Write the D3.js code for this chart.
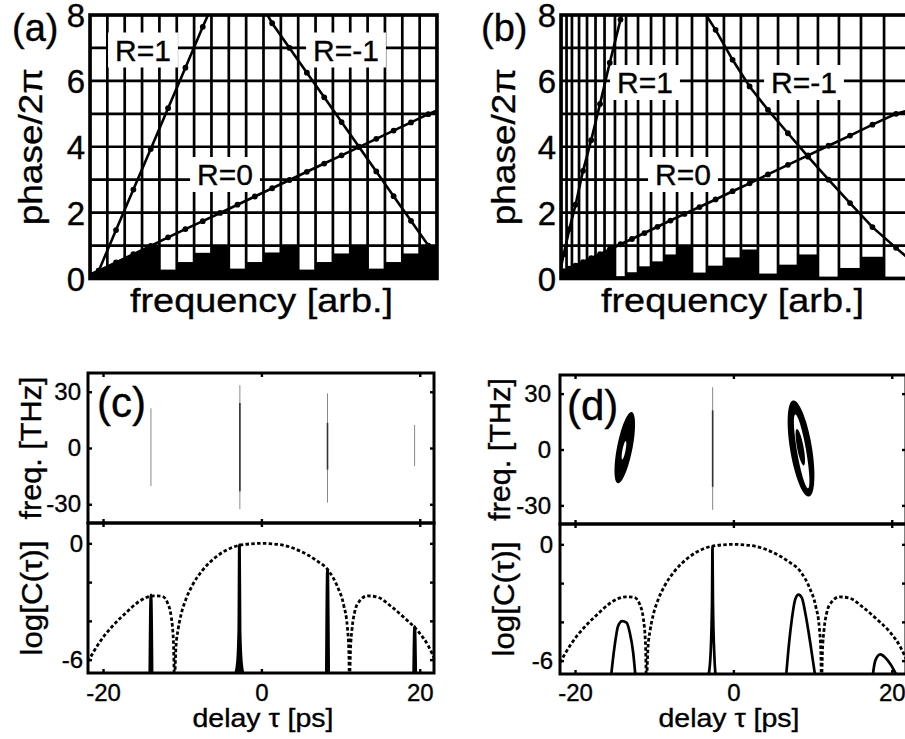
<!DOCTYPE html>
<html>
<head>
<meta charset="utf-8">
<script src="https://cdn.jsdelivr.net/npm/d3@7"></script>
<style>
  html, body { margin: 0; padding: 0; background: #fff; }
  svg { display: block; }
  text { font-family: "Liberation Sans", Arial, Helvetica, sans-serif; fill: #000; stroke: #000; stroke-width: 0.35px; }
</style>
</head>
<body>
<svg id="fig" width="905" height="739"></svg>
<script>
// ---------------- phase panels (a), (b) ----------------
const phaseTicks = [0, 2, 4, 6, 8];
const phaseLevels = [0, 1, 2, 3, 4, 5, 6, 7, 8];

// (a): uniform frequency bins (arb. units 0..20)
const gridA = [0, 1, 2, 3, 4, 5, 6, 7, 8, 9, 10, 11, 12, 13, 14, 15, 16, 17, 18, 19, 20];
// wrapped phase per bin (null = below first 2π wrap)
const wrapA = [null, null, null, null, 0.27, 0.50, 0.78, 1.00, 0.30, 0.50, 0.79, 1.00,
               0.27, 0.50, 0.76, 1.00, 0.30, 0.50, 0.76, 1.00];
const r1A_f = [0.3, 0.5, 1.5, 2.5, 3.5, 4.5, 5.5, 6.5, 6.8];
const r1A_p = [0.0, 0.23, 1.47, 2.70, 3.93, 5.17, 6.40, 7.64, 8.0];
const r0A_f = [0, 0.5, 1.5, 2.5, 3.5, 4.5, 5.5, 6.5, 7.5, 8.5, 9.5, 10.5, 11.5, 12.5, 13.5, 14.5, 15.5, 16.5, 17.5, 18.5, 19.5, 20];
const r0A_p = [0.12, 0.24, 0.49, 0.74, 0.99, 1.25, 1.50, 1.74, 1.99, 2.24, 2.49, 2.74, 2.99, 3.24, 3.49, 3.74, 3.99, 4.24, 4.49, 4.74, 4.99, 5.10];
const rm1A_f = [10.23, 10.5, 11.5, 12.5, 13.5, 14.5, 15.5, 16.5, 17.5, 18.5, 19.5, 20];
const rm1A_p = [8.0, 7.75, 7.0, 6.25, 5.5, 4.75, 4.0, 3.25, 2.5, 1.75, 1.0, 0.65];

// (b): non-uniform frequency bins
const gridB = [0, 0.32, 0.63, 1.04, 1.50, 1.99, 2.51, 3.11, 3.75, 4.44, 5.19, 5.94, 6.69, 7.55,
               8.41, 9.39, 10.37, 11.35, 12.51, 13.66, 14.81, 16.02, 17.29, 18.62, 20];
const wrapB = [null, null, null, null, null, null, null, 0.07, 0.19, 0.37, 0.52, 0.73, 1.00,
               0.18, 0.39, 0.64, 0.88, 0.15, 0.42, 0.73, 0.05, 0.32, 0.66, 0.05];
const r1B_f = [0, 0.16, 0.48, 0.84, 1.27, 1.74, 2.25, 2.81, 3.43, 3.50];
const r1B_p = [0.35, 0.74, 1.50, 2.24, 3.27, 4.20, 5.30, 6.55, 7.86, 8.0];
const r0B_f = [0, 0.16, 0.48, 0.84, 1.27, 1.74, 2.25, 2.81, 3.43, 4.09, 4.81, 5.56, 6.31, 7.12,
               7.98, 8.91, 9.89, 10.87, 11.93, 13.08, 14.24, 15.42, 16.66, 17.95, 19.31, 20];
const r0B_p = [0.18, 0.22, 0.30, 0.39, 0.50, 0.62, 0.74, 0.88, 1.04, 1.20, 1.38, 1.57, 1.76, 1.96,
               2.17, 2.40, 2.65, 2.89, 3.16, 3.45, 3.74, 4.03, 4.34, 4.67, 5.00, 5.10];
const rm1B_f = [8.36, 8.91, 9.89, 10.87, 11.93, 13.08, 14.24, 15.42, 16.66, 17.95, 19.31, 20];
const rm1B_p = [8.0, 7.55, 6.64, 5.83, 5.12, 4.41, 3.70, 3.00, 2.29, 1.56, 0.93, 0.62];

// ---------------- delay panels (c), (d) ----------------
const delayTicks = [-20, 0, 20];
const freqTicks = [-30, 0, 30];
const logTicks = [0, -2, -4, -6];
const logLabels = [0, -6];

// log of the envelope correlation (dashed)
const envTau = [-21.9, -20.5, -18.85, -17.15, -15.45, -13.6, -12.5, -11.85, -11.4, -11.1, -11.0,
                -10.95, -10.8, -10.5, -10.1, -9.5, -8.7, -7.4, -5.7, -3.6, -1.5, 0,
                1.5, 2.8, 4.9, 7.0, 8.5, 9.6, 10.4, 10.85, 11.05, 11.1,
                11.15, 11.25, 11.45, 11.75, 12.35, 13.4, 14.7, 16.4, 18.1, 19.8, 21.1, 21.9];
const envLog = [-6.1, -5.14, -4.29, -3.6, -3.0, -2.71, -2.74, -3.08, -3.77, -5.14, -6.8,
                -6.8, -5.4, -4.4, -3.6, -2.85, -2.15, -1.37, -0.69, -0.2, -0.03, 0,
                -0.03, -0.1, -0.4, -0.9, -1.42, -2.23, -3.2, -4.3, -5.6, -6.8,
                -6.8, -5.5, -4.4, -3.6, -3.0, -2.71, -2.78, -3.26, -3.86, -4.54, -5.3, -6.0];

// (c) correlation peaks of the unshaped train
const peaksC = [
  { tau: [-14.1, -13.97, -13.93, -13.8], log: [-6.8, -2.66, -2.66, -6.8] },
  { tau: [-3.3, -3.02, -2.86, -2.79, -2.76, -2.69, -2.53, -2.26], log: [-6.8, -6.1, -4.5, -0.08, -0.08, -4.5, -6.1, -6.8] },
  { tau: [8.2, 8.33, 8.37, 8.5], log: [-6.8, -1.38, -1.38, -6.8] },
  { tau: [19.22, 19.34, 19.38, 19.5], log: [-6.8, -4.3, -4.3, -6.8] }
];
// (d) correlation peaks of the shaped train
const peaksD = [
  { tau: [-15.45, -15.0, -14.56, -14.05, -13.5, -13.09, -12.66, -12.37], log: [-6.8, -5.24, -4.21, -3.96, -4.04, -4.55, -5.58, -6.8] },
  { tau: [-3.16, -2.9, -2.7, -2.64, -2.58, -2.4, -2.24], log: [-6.8, -5.8, -3.0, -0.12, -3.0, -5.8, -6.8] },
  { tau: [6.66, 7.04, 7.38, 7.8, 8.23, 8.65, 9.15, 9.7, 10.33], log: [-6.8, -5.06, -3.87, -2.85, -2.59, -2.76, -3.7, -5.06, -6.8] },
  { tau: [17.59, 17.92, 18.56, 19.19, 19.82, 20.67], log: [-6.8, -6.0, -5.68, -5.85, -6.17, -6.8] }
];

// spectrogram ridges: delay, outer (faint) and inner (dark) frequency extent
const ridgesC = [
  { tau: -13.95, outer: [-20.3, 21.2], inner: null },
  { tau: -2.72, outer: [-32.6, 33.5], inner: [-23, 24] },
  { tau: 8.35, outer: [-29.1, 29.1], inner: [-11.5, 13.4] },
  { tau: 19.35, outer: [-9.7, 12.3], inner: null }
];
const ridgesD = [
  { tau: -2.62, outer: [-32.4, 33.4], inner: [-20, 21] }
];
// spectrogram contour islands: centre, half-height (THz), half-width (ps), tilt (ps/THz)
const blobsD = [
  { tau: -13.72, f: 1.0, H: 19.1, W: 0.99, tilt: 0.044, fill: "#000" },
  { tau: -13.82, f: -0.4, H: 4.9, W: 0.2, tilt: 0.044, fill: "#fff" },
  { tau: 8.54, f: 0.5, H: 25.8, W: 1.4, tilt: -0.0368, fill: "#000" },
  { tau: 8.62, f: -1.0, H: 19.8, W: 0.58, tilt: -0.040, fill: "#fff" },
  { tau: 8.45, f: 1.2, H: 9.8, W: 0.42, tilt: -0.043, fill: "#000" }
];

// ---------------- drawing ----------------
const svg = d3.select("#fig");
svg.append("rect").attr("width", 905).attr("height", 739).attr("fill", "#fff");
let clipId = 0;
function addClip(x, y, w, h) {
  const id = "clip" + (clipId++);
  svg.append("clipPath").attr("id", id).append("rect")
    .attr("x", x).attr("y", y).attr("width", w).attr("height", h);
  return "url(#" + id + ")";
}

function phasePanel(o) {
  const x = d3.scaleLinear([0, 20], [o.x0, o.x1]);
  const y = d3.scaleLinear([0, 8], [o.y1, o.y0]);
  const g = svg.append("g");
  const plot = g.append("g").attr("clip-path", addClip(o.x0, o.y0, o.x1 - o.x0, o.y1 - o.y0));

  // black fill under the first 2π of the R=0 phase
  const r0 = o.r0f.map((f, i) => [f, o.r0p[i]]);
  plot.append("path")
    .attr("clip-path", addClip(x(0), y(1), x(o.grid[o.firstBar]) - x(0), y(0) - y(1)))
    .attr("d", d3.area().x(d => x(d[0])).y0(y(0)).y1(d => y(d[1]))(r0))
    .attr("fill", "#000");
  // wrapped phase per bin
  o.wrap.forEach((w, i) => {
    if (w === null) return;
    plot.append("rect")
      .attr("x", x(o.grid[i])).attr("width", x(o.grid[i + 1]) - x(o.grid[i]))
      .attr("y", y(w)).attr("height", y(0) - y(w)).attr("fill", "#000");
  });
  // bin grid
  plot.selectAll(".vg").data(o.grid).enter().append("line")
    .attr("x1", d => x(d)).attr("x2", d => x(d)).attr("y1", o.y0).attr("y2", o.y1)
    .attr("stroke", "#000").attr("stroke-width", 2.7);
  plot.selectAll(".hg").data(phaseLevels).enter().append("line")
    .attr("x1", o.x0).attr("x2", o.x1).attr("y1", d => y(d)).attr("y2", d => y(d))
    .attr("stroke", "#000").attr("stroke-width", 2.7);

  // labels on white boxes
  o.labels.forEach(l => {
    const t = g.append("text").attr("x", l.x).attr("y", l.y)
      .attr("text-anchor", "middle").attr("font-size", 30).text(l.text);
    const bb = t.node().getBBox();
    g.insert("rect", () => t.node())
      .attr("x", bb.x - 7).attr("y", bb.y - 1).attr("width", bb.width + 14).attr("height", bb.height + 2)
      .attr("fill", "#fff");
  });

  // phase curves with sample dots
  const lines = g.append("g").attr("clip-path", addClip(o.x0, o.y0 - 2, o.x1 - o.x0, o.y1 - o.y0 + 2));
  o.curves.forEach(c => {
    const pts = c.f.map((f, i) => [f, c.p[i]]);
    lines.append("path").attr("d", d3.line().x(d => x(d[0])).y(d => y(d[1]))(pts))
      .attr("fill", "none").attr("stroke", "#000").attr("stroke-width", 2.6);
    lines.selectAll(null).data(pts.slice(1, -1)).enter().append("circle")
      .attr("cx", d => x(d[0])).attr("cy", d => y(d[1])).attr("r", 2.9).attr("fill", "#000");
  });

  // frame
  g.append("rect").attr("x", o.x0).attr("y", o.y0).attr("width", o.x1 - o.x0).attr("height", o.y1 - o.y0)
    .attr("fill", "none").attr("stroke", "#000").attr("stroke-width", 3.6);

  // phase axis
  const ax = g.append("g").attr("transform", `translate(${o.x0},0)`)
    .call(d3.axisLeft(y).tickValues(phaseTicks).tickSize(0).tickPadding(5).tickFormat(d3.format("d")));
  ax.select(".domain").remove();
  ax.selectAll("text").attr("font-size", 33).attr("font-family", "Liberation Sans, Arial, sans-serif")
    .attr("fill", "#000").attr("dy", "0.36em");

  g.append("text").attr("transform", `translate(${o.ylabX},${(o.y0 + o.y1) / 2}) rotate(-90)`)
    .attr("text-anchor", "middle").attr("font-size", 34).attr("textLength", 157)
    .attr("lengthAdjust", "spacingAndGlyphs").text("phase/2π");
  g.append("text").attr("x", (o.x0 + o.x1) / 2 - 2).attr("y", 312)
    .attr("text-anchor", "middle").attr("font-size", 34).attr("textLength", 263)
    .attr("lengthAdjust", "spacingAndGlyphs").text("frequency [arb.]");
  g.append("text").attr("x", o.letterX).attr("y", 41).attr("font-size", 38).text(o.letter);
}

phasePanel({
  x0: 90, x1: 437, y0: 15, y1: 278.5, grid: gridA, wrap: wrapA, firstBar: 4,
  r0f: r0A_f, r0p: r0A_p,
  curves: [{ f: r1A_f, p: r1A_p }, { f: r0A_f, p: r0A_p }, { f: rm1A_f, p: rm1A_p }],
  labels: [{ text: "R=1", x: 143, y: 60.5 }, { text: "R=-1", x: 346, y: 60.5 }, { text: "R=0", x: 225, y: 185 }],
  ylabX: 42, letter: "(a)", letterX: 12
});
phasePanel({
  x0: 561, x1: 908, y0: 15, y1: 278.5, grid: gridB, wrap: wrapB, firstBar: 7,
  r0f: r0B_f, r0p: r0B_p,
  curves: [{ f: r1B_f, p: r1B_p }, { f: r0B_f, p: r0B_p }, { f: rm1B_f, p: rm1B_p }],
  labels: [{ text: "R=1", x: 645, y: 93 }, { text: "R=-1", x: 804, y: 93 }, { text: "R=0", x: 683, y: 185 }],
  ylabX: 515, letter: "(b)", letterX: 481
});

function delayPanel(o) {
  const x = d3.scaleLinear([-21.9, 21.8], [o.x0, o.x1]);
  const yF = d3.scaleLinear([-40, 40], [o.ym, o.y0]);
  const yL = d3.scaleLinear([-6.69, 1.05], [o.y1, o.ym]);
  const g = svg.append("g");
  const top = g.append("g").attr("clip-path", addClip(o.x0, o.y0, o.x1 - o.x0, o.ym - o.y0));
  const bot = g.append("g").attr("clip-path", addClip(o.x0, o.ym, o.x1 - o.x0, o.y1 - o.ym));

  // spectrogram
  o.blobs.forEach(b => {
    const pts = d3.range(0, 360, 6).map(a => {
      const t = a * Math.PI / 180;
      const f = b.f + b.H * Math.sin(t);
      return [x(b.tau + b.tilt * (f - b.f) + b.W * Math.cos(t)), yF(f)];
    });
    top.append("path").attr("d", d3.line().curve(d3.curveCardinalClosed)(pts)).attr("fill", b.fill);
  });
  o.ridges.forEach(r => {
    top.append("line").attr("x1", x(r.tau)).attr("x2", x(r.tau))
      .attr("y1", yF(r.outer[0])).attr("y2", yF(r.outer[1]))
      .attr("stroke", "#888").attr("stroke-width", 1);
    if (r.inner) top.append("line").attr("x1", x(r.tau)).attr("x2", x(r.tau))
      .attr("y1", yF(r.inner[0])).attr("y2", yF(r.inner[1]))
      .attr("stroke", "#333").attr("stroke-width", 1.6);
  });

  // correlation traces
  const env = envTau.map((t, i) => [t, envLog[i]]);
  bot.append("path").attr("d", d3.line().curve(d3.curveMonotoneX).x(d => x(d[0])).y(d => yL(d[1]))(env))
    .attr("fill", "none").attr("stroke", "#000").attr("stroke-width", 2.8).attr("stroke-dasharray", "3.5 2.3");
  o.peaks.forEach(p => {
    const pts = p.tau.map((t, i) => [t, p.log[i]]);
    bot.append("path").attr("d", d3.line().curve(d3.curveMonotoneX).x(d => x(d[0])).y(d => yL(d[1]))(pts))
      .attr("fill", o.fillPeaks ? "#000" : "none").attr("stroke", "#000").attr("stroke-width", 2.7);
  });

  // frames
  [[o.y0, o.ym], [o.ym, o.y1]].forEach(([a, b]) =>
    g.append("rect").attr("x", o.x0).attr("y", a).attr("width", o.x1 - o.x0).attr("height", b - a)
      .attr("fill", "none").attr("stroke", "#000").attr("stroke-width", 3));

  // axes with inward ticks
  const style = sel => {
    sel.select(".domain").remove();
    sel.selectAll("line").attr("stroke", "#000").attr("stroke-width", 2.4);
    sel.selectAll("text").attr("font-size", 24).attr("fill", "#000")
      .attr("font-family", "Liberation Sans, Arial, sans-serif");
  };
  const fmt = d => String(d);
  g.append("g").attr("transform", `translate(${o.x0},0)`)
    .call(d3.axisLeft(yF).tickValues(freqTicks).tickSizeInner(-4).tickSizeOuter(0).tickPadding(o.tpad).tickFormat(fmt)).call(style);
  g.append("g").attr("transform", `translate(${o.x0},0)`)
    .call(d3.axisLeft(yL).tickValues(logTicks).tickSizeInner(-4).tickSizeOuter(0).tickPadding(o.tpad - 2)
      .tickFormat(d => logLabels.includes(d) ? String(d) : "")).call(style);
  g.append("g").attr("transform", `translate(${o.x1},0)`)
    .call(d3.axisRight(yF).tickValues(freqTicks).tickSizeInner(-4).tickSizeOuter(0).tickFormat("")).call(style);
  g.append("g").attr("transform", `translate(${o.x1},0)`)
    .call(d3.axisRight(yL).tickValues(logTicks).tickSizeInner(-4).tickSizeOuter(0).tickFormat("")).call(style);
  g.append("g").attr("transform", `translate(0,${o.y0})`)
    .call(d3.axisTop(x).tickValues(delayTicks).tickSizeInner(-4).tickSizeOuter(0).tickFormat("")).call(style);
  g.append("g").attr("transform", `translate(0,${o.ym})`)
    .call(d3.axisBottom(x).tickValues(delayTicks).tickSizeInner(-4).tickSizeOuter(0).tickFormat("")).call(style);
  g.append("g").attr("transform", `translate(0,${o.ym})`)
    .call(d3.axisTop(x).tickValues(delayTicks).tickSizeInner(-4).tickSizeOuter(0).tickFormat("")).call(style);
  g.append("g").attr("transform", `translate(0,${o.y1})`)
    .call(d3.axisBottom(x).tickValues(delayTicks).tickSizeInner(-4).tickSizeOuter(0).tickPadding(o.bpad).tickFormat(fmt)).call(style);

  g.append("text").attr("transform", `translate(${o.fLabX},${(o.y0 + o.ym) / 2}) rotate(-90)`)
    .attr("text-anchor", "middle").attr("font-size", 29).attr("textLength", 143)
    .attr("lengthAdjust", "spacingAndGlyphs").text("freq. [THz]");
  g.append("text").attr("transform", `translate(${o.lLabX},${(o.ym + o.y1) / 2}) rotate(-90)`)
    .attr("text-anchor", "middle").attr("font-size", 29).attr("textLength", 115)
    .attr("lengthAdjust", "spacingAndGlyphs").text("log[C(τ)]");
  g.append("text").attr("x", o.dLabX).attr("y", 727)
    .attr("text-anchor", "middle").attr("font-size", 25).attr("textLength", 141)
    .attr("lengthAdjust", "spacingAndGlyphs").text("delay τ [ps]");
  g.append("text").attr("x", o.letterX).attr("y", o.letterY).attr("font-size", 42).text(o.letter);
}

delayPanel({
  x0: 88, x1: 434, y0: 373, ym: 523, y1: 673, tpad: 7, bpad: 11,
  blobs: [], ridges: ridgesC, peaks: peaksC, fillPeaks: true,
  fLabX: 41, lLabX: 42, dLabX: 263, letter: "(c)", letterX: 97, letterY: 417
});
delayPanel({
  x0: 560, x1: 906, y0: 375, ym: 524, y1: 674, tpad: 9, bpad: 10,
  blobs: blobsD, ridges: ridgesD, peaks: peaksD, fillPeaks: false,
  fLabX: 510, lLabX: 514, dLabX: 729, letter: "(d)", letterX: 567, letterY: 420
});
</script>
</body>
</html>
